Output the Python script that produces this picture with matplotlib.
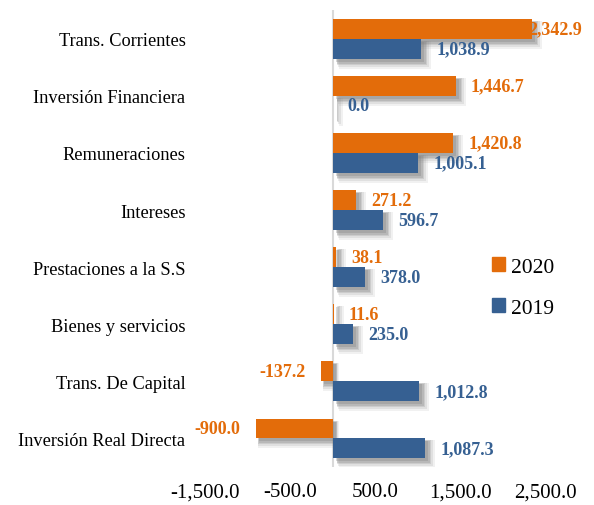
import numpy as np
import matplotlib
matplotlib.use("Agg")
from matplotlib import pyplot as plt
from matplotlib.patches import Patch
from matplotlib.ticker import FuncFormatter

categories = ["Trans. Corrientes", "Inversión Financiera", "Remuneraciones", "Intereses",
              "Prestaciones a la S.S", "Bienes y servicios", "Trans. De Capital",
              "Inversión Real Directa"]
vals_2020 = [2342.9, 1446.7, 1420.8, 271.2, 38.1, 11.6, -137.2, -900.0]
vals_2019 = [1038.9, 0.0, 1005.1, 596.7, 378.0, 235.0, 1012.8, 1087.3]
xticks = [-1500, -500, 500, 1500, 2500]

ORANGE = "#E36C0A"
BLUE = "#366092"

plt.rcParams['font.family'] = ['Liberation Serif', 'DejaVu Serif']

fig = plt.figure(figsize=(5.94, 5.06), dpi=100)
ax = fig.add_axes([0.345, 0.075, 0.573, 0.903])

y = np.arange(len(categories))
h = 0.35
xlim = (-1500, 2500)
ylim = (len(categories) - 0.5, -0.5)

# size of one pixel in data units, used for the blurred drop shadow
bbox = ax.get_position()
px_x = (xlim[1] - xlim[0]) / (bbox.width * fig.get_figwidth() * fig.dpi)
px_y = (ylim[0] - ylim[1]) / (bbox.height * fig.get_figheight() * fig.dpi)

for d, grow, a in [(6, 4, 0.10), (5, 3, 0.14), (4, 2, 0.2), (4, 1, 0.25), (3, 0, 0.3)]:
    for yy, vals in [(y - h / 2, vals_2020), (y + h / 2, vals_2019)]:
        vals = np.array(vals)
        left = np.where(vals >= 0, d * px_x, vals + d * px_x - grow * px_x)
        width = np.abs(vals) + grow * px_x
        ax.barh(yy + d * px_y, width, left=left, height=h + 2 * grow * px_y,
                color="#7F7F7F", alpha=a, lw=0, zorder=2)

b20 = ax.barh(y - h / 2, vals_2020, height=h, color=ORANGE, zorder=3)
b19 = ax.barh(y + h / 2, vals_2019, height=h, color=BLUE, zorder=3)

def put_labels(bars, vals, color):
    for bar, v in zip(bars, vals):
        cy = bar.get_y() + bar.get_height() / 2
        off = 11 if v >= 0 else -11
        ha = "left" if v >= 0 else "right"
        if v > 2000:
            off = -3
        ax.annotate(f"{v:,.1f}", (v, cy), xytext=(off, 0), textcoords="offset points",
                    ha=ha, va="center", color=color, fontsize=13, fontweight="bold",
                    annotation_clip=False, zorder=5)

put_labels(b20, vals_2020, ORANGE)
put_labels(b19, vals_2019, BLUE)

ax.set_xlim(*xlim)
ax.set_ylim(*ylim)
ax.set_xticks(xticks)
ax.xaxis.set_major_formatter(FuncFormatter(lambda v, p: f"{v:,.1f}"))
ax.tick_params(axis="x", length=0, labelsize=15, pad=11)
ax.set_yticks(y)
ax.set_yticklabels(categories, fontsize=13.2)
ax.tick_params(axis="y", length=0, pad=14)
for s in ["top", "right", "bottom", "left"]:
    ax.spines[s].set_visible(False)
ax.axvline(0, color="#D9D9D9", lw=1.5, zorder=1)

handles = [Patch(color=ORANGE), Patch(color=BLUE)]
fig.legend(handles, ["2020", "2019"], loc="center left", bbox_to_anchor=(0.795, 0.43),
           frameon=False, fontsize=15.5, handlelength=0.6, handleheight=0.6,
           handletextpad=0.3, labelspacing=1.0)

fig.savefig("out.png", dpi=100)
